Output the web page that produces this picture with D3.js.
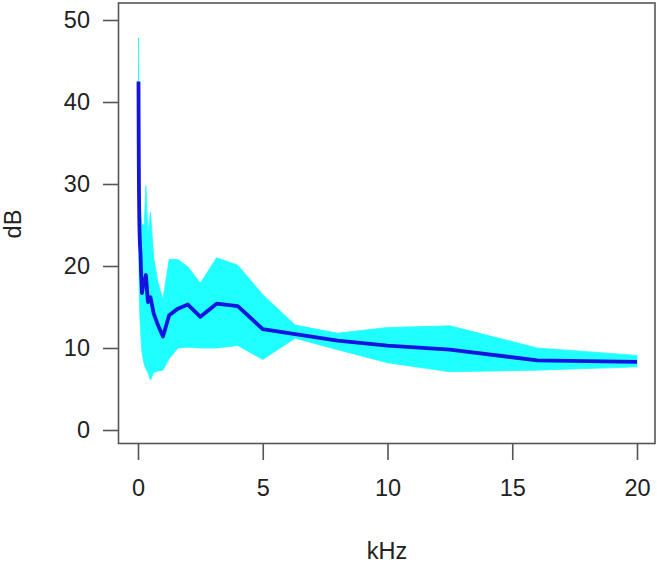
<!DOCTYPE html>
<html>
<head>
<meta charset="utf-8">
<script src="https://cdn.jsdelivr.net/npm/d3@7/dist/d3.min.js"></script>
<style>
html,body{margin:0;padding:0;background:#fff;}
svg{display:block;}
text{font-family:"Liberation Sans",Arial,sans-serif;fill:#222;}
</style>
</head>
<body>
<svg id="chart" width="657" height="564"></svg>
<script>
const freqs = [0.02,0.025,0.0315,0.04,0.05,0.063,0.08,0.1,0.125,0.16,0.2,0.25,0.315,0.4,0.5,0.63,0.8,1,1.25,1.6,2,2.5,3.15,4,5,6.3,8,10,12.5,16,20];
const meanDb = [42.5,38,33,29,26,24,22.5,21.5,19,16.7,17.5,18,18.9,15.6,16.2,14.2,12.8,11.4,14.0,14.8,15.3,13.8,15.4,15.1,12.3,11.7,10.9,10.3,9.8,8.5,8.3];
const upperDb = [47.8,45,40,35,31,29,28,27,26,25,25,25,29.8,24,26.6,21,18,15.9,20.8,20.8,19.9,17.9,21.0,20.1,16.5,12.8,11.8,12.5,12.7,10.0,9.1];
const lowerDb = [37,30,25,20,17,15,13.5,12.5,11,9.5,8.8,8,7.5,7,6.1,7,7.2,7.3,8.7,10.0,10.1,10.0,10.0,10.3,8.6,11.2,9.8,8.2,7.1,7.3,7.7];
const xTicks = [0,5,10,15,20];
const yTicks = [0,10,20,30,40,50];

const svg = d3.select("#chart");
const box = {left:118.5, top:3, right:655, bottom:443.5};
const x = d3.scaleLinear().domain([0,20]).range([138,637]);
const y = d3.scaleLinear().domain([0,50]).range([430,20]);

const data = freqs.map((f,i)=>({f, m:meanDb[i], u:upperDb[i], l:lowerDb[i]}));

const area = d3.area().x(d=>x(d.f)).y0(d=>y(d.l)).y1(d=>y(d.u));
svg.append("path").datum(data).attr("d",area).attr("fill","#20ffff")
  .attr("stroke","#20ffff").attr("stroke-width",0.8);

const line = d3.line().x(d=>x(d.f)).y(d=>y(d.m));
svg.append("path").datum(data).attr("d",line).attr("fill","none")
  .attr("stroke","#1414e0").attr("stroke-width",3.8).attr("stroke-linejoin","round");

// box
svg.append("rect").attr("x",box.left).attr("y",box.top)
  .attr("width",box.right-box.left).attr("height",box.bottom-box.top)
  .attr("fill","none").attr("stroke","#555").attr("stroke-width",1.6);

// y axis
const yAxis = d3.axisLeft(y).tickValues(yTicks).tickSize(15.5).tickPadding(13).tickSizeOuter(0);
const gy = svg.append("g").attr("transform",`translate(${box.left},0)`).call(yAxis);
gy.select(".domain").remove();
gy.selectAll(".tick line").attr("stroke","#555").attr("stroke-width",1.6);
gy.selectAll(".tick text").style("font-size","23.5px").attr("fill","#222")
  .style("font-family","'Liberation Sans',Arial,sans-serif");

// x axis
const xAxis = d3.axisBottom(x).tickValues(xTicks).tickSize(16.5).tickPadding(19).tickSizeOuter(0);
const gx = svg.append("g").attr("transform",`translate(0,${box.bottom})`).call(xAxis);
gx.select(".domain").remove();
gx.selectAll(".tick line").attr("stroke","#555").attr("stroke-width",1.6);
gx.selectAll(".tick text").style("font-size","23.5px").attr("fill","#222")
  .style("font-family","'Liberation Sans',Arial,sans-serif");

// axis titles
svg.append("text").attr("x",387).attr("y",559).attr("text-anchor","middle")
  .style("font-size","23.5px").text("kHz");
svg.append("text").attr("transform","translate(21,224) rotate(-90)").attr("text-anchor","middle")
  .style("font-size","23.5px").text("dB");
</script>
</body>
</html>
